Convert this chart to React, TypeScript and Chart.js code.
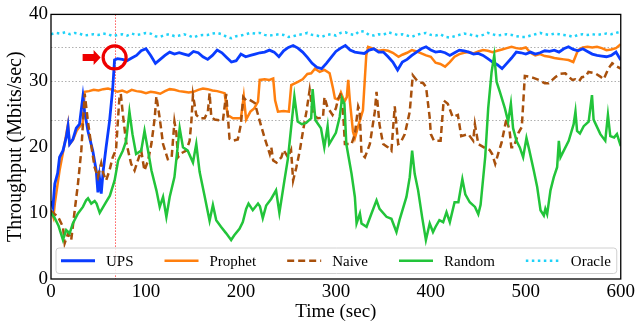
import { useEffect, useRef } from "react";
import { Chart, registerables } from "chart.js";

Chart.register(...registerables);

const FONT = '"Liberation Serif", "Times New Roman", Times, serif';

const xTickValues = [0, 100, 200, 300, 400, 500, 600];
const yTickValues = [0, 10, 20, 30, 40];
const referenceLevels = [24, 30, 35];
const switchTime = 67;
const switchValue = 33.5;

// [time (sec), throughput (Mbits/sec)]
const upsSeries: [number, number][] = [
  [0, 11.8], [2, 10.9], [4, 14.4], [7, 16.0], [9, 18.4], [12.6, 19.4], [16, 21.4], [17.9, 23.1], [19.6, 20.4], [23, 21.1],
  [26.6, 22.8], [30, 23.4], [33.6, 27.6], [35.4, 25.3], [39, 22.3], [44, 19.4], [47.6, 16.4], [49.4, 13.1], [51, 15.4], [52.9, 12.9],
  [55, 16.4], [58, 19.9], [61.6, 23.8], [65, 28.8], [66.9, 33.1], [70, 33.3],
  [75, 33.2], [80, 33.0], [85, 33.4], [90, 33.8], [95, 34.5], [100, 34.8], [105, 33.8], [110, 32.6], [115, 33.2], [120, 33.8],
  [125, 34.3], [130, 34.0], [135, 34.2], [140, 34.0], [145, 33.8], [150, 34.4], [155, 34.2], [160, 33.6], [165, 33.2], [170, 33.8],
  [175, 34.6], [180, 34.2], [185, 33.5], [190, 32.8], [195, 33.0], [200, 34.0], [205, 33.6], [210, 33.8], [215, 34.0], [220, 34.2],
  [225, 34.3], [230, 34.6], [235, 34.3], [240, 33.6], [245, 34.5], [250, 35.0], [255, 35.3], [260, 34.9], [265, 34.3], [270, 33.5],
  [275, 32.6], [280, 32.0], [285, 31.8], [290, 32.6], [295, 33.5], [300, 34.4], [305, 34.9], [310, 35.3], [315, 34.6], [320, 34.3],
  [325, 34.2], [330, 34.1], [335, 34.6], [340, 34.8], [345, 34.3], [350, 34.3], [355, 33.6], [360, 32.8], [365, 31.6], [370, 32.8],
  [375, 33.2], [380, 33.8], [385, 34.3], [390, 34.8], [395, 35.1], [400, 34.6], [405, 34.3], [410, 34.4], [415, 34.2], [420, 33.8],
  [425, 34.2], [430, 34.6], [435, 34.5], [440, 34.3], [445, 34.0], [450, 34.1], [455, 33.8], [460, 33.3], [465, 32.8], [470, 32.4],
  [475, 31.8], [480, 32.6], [485, 33.4], [490, 34.3], [495, 34.2], [500, 34.0], [505, 34.3], [510, 34.0], [515, 34.2], [520, 34.5],
  [525, 34.4], [530, 34.6], [535, 34.3], [540, 34.8], [545, 35.1], [550, 34.7], [555, 34.5], [560, 34.8], [565, 34.4], [570, 34.0],
  [575, 33.8], [580, 33.7], [585, 33.6], [590, 33.8], [595, 34.3], [600, 33.1],
];

const prophetSeries: [number, number][] = [
  [0, 10.3], [2.5, 9.3], [4, 11.4], [9, 16.4], [14.3, 20.4], [17.9, 23.4], [19.6, 20.4], [23, 21.0], [27, 22.4], [30, 23.0],
  [33.5, 23.6], [35.4, 28.3], [40, 28.4], [45, 28.6], [50, 28.5], [55, 28.7], [60, 28.8], [65, 28.6], [70, 28.3], [75, 28.5],
  [80, 28.2], [85, 28.6], [90, 28.4], [95, 28.3], [100, 28.1], [105, 28.3], [110, 28.2], [115, 28.0], [120, 28.4], [125, 28.7],
  [130, 28.6], [135, 28.4], [140, 28.3], [145, 28.2], [150, 28.3], [155, 28.6], [160, 28.8], [165, 28.7], [170, 28.5], [175, 28.4],
  [182.8, 28.1], [186, 24.8], [191.5, 24.3], [200, 24.3], [203, 27.6], [205.5, 24.1], [210, 25.3], [214, 25.8], [218, 26.8], [219.8, 30.1],
  [225, 30.2], [230, 30.1], [234, 30.3], [236, 27.0], [239, 25.3], [245, 25.4], [250.5, 25.3], [253, 29.3], [260, 29.8], [265, 30.2],
  [270, 31.0], [274, 31.1], [278, 31.8], [283, 31.3], [288, 31.6], [293.4, 31.1], [297, 28.8], [299, 27.3], [302.5, 27.1], [305.3, 28.2],
  [309, 26.8], [311.5, 27.5], [313, 30.1], [314.8, 26.8], [318, 22.3], [320, 21.3], [323.5, 23.1], [328.5, 25.5], [332, 33.8], [334, 35.1],
  [340, 34.8], [345, 34.5], [350, 34.6], [355, 34.5], [360, 34.2], [366, 33.6], [370, 33.9], [375, 34.2], [380, 34.6], [385, 34.4],
  [390, 34.1], [395, 33.8], [400, 33.6], [405, 32.7], [410, 32.5], [415, 32.1], [420, 32.8], [425, 33.6], [430, 34.0], [435, 34.2],
  [440, 34.3], [445, 34.1], [450, 34.4], [455, 34.6], [460, 34.5], [465, 34.3], [470, 34.5], [475, 34.7], [480, 34.9], [485, 35.1],
  [490, 34.9], [495, 34.8], [500, 35.0], [505, 34.2], [510, 33.8], [515, 34.0], [520, 33.7], [525, 33.6], [530, 33.4], [535, 33.3],
  [540, 33.2], [545, 33.1], [550, 32.8], [555, 34.6], [560, 35.0], [565, 35.1], [570, 35.0], [575, 35.1], [580, 34.9], [585, 34.6],
  [590, 34.7], [595, 34.9], [600, 35.5],
];

const naiveSeries: [number, number][] = [
  [0, 10.3], [4, 9.8], [7.4, 9.4], [12.6, 7.9], [14.4, 5.4], [18, 6.9], [21.3, 5.9], [25, 10.4], [28.4, 14.4], [31.9, 19.4],
  [35.5, 28.0], [38.9, 23.8], [42.4, 20.2], [45.9, 16.9], [49.4, 15.4], [52.9, 17.5], [55, 16.0], [58, 14.9], [61.6, 16.4], [65, 18.4],
  [68.5, 19.6], [72, 27.3], [73.5, 28.0], [75.6, 25.0], [79, 20.8], [84.4, 17.4], [88, 16.4], [91.4, 17.9], [95, 19.4], [98.4, 16.4],
  [102.2, 17.9], [105.7, 20.4], [109.2, 24.3], [111, 27.6], [114.5, 24.3], [118, 20.4], [123, 18.1], [127, 18.3], [130, 23.8], [132, 22.1],
  [133.7, 18.4], [137, 19.0], [142.5, 19.4], [146, 20.9], [147.8, 23.8], [149.5, 27.8], [153, 24.8], [156.5, 24.3], [161.8, 24.3], [165.2, 25.3],
  [167, 28.1], [168.8, 24.5], [172.3, 24.1], [181, 23.9], [184.5, 28.0], [188, 21.2], [191.5, 20.9], [196.7, 21.1], [200, 23.4], [202.5, 27.5],
  [205.5, 27.0], [209, 27.1], [214.6, 26.6], [220, 23.8], [225, 21.3], [230.4, 18.9], [232, 19.9], [234, 17.9], [237.5, 17.6], [242.6, 18.4],
  [245, 19.5], [249.6, 18.4], [252.8, 19.5], [255, 14.9], [258.4, 16.9], [262, 19.4], [265.4, 22.4], [269, 25.3], [272.4, 28.6], [276, 24.8],
  [281, 24.3], [286.4, 24.4], [288, 27.5], [291, 26.0], [296.5, 24.8], [300, 25.8], [302.5, 27.3], [305.5, 28.1], [308, 24.3], [309.5, 20.4],
  [316.5, 20.4], [320, 21.9], [323.5, 26.1], [325, 25.5], [327, 18.9], [330.6, 18.4], [335.8, 20.4], [341, 25.3], [342.8, 28.3], [346, 23.3],
  [349.8, 20.4], [355, 19.9], [358.5, 19.4], [362, 26.1], [365.6, 20.4], [368, 20.6], [372.6, 21.9], [377.8, 25.3], [381, 30.8], [386.6, 29.8],
  [392, 29.6], [395, 29.0], [398.8, 24.4], [400, 21.9], [403.3, 20.9], [410.3, 20.9], [413.5, 27.0], [417.8, 26.5], [423, 24.5], [428.5, 24.8],
  [432, 21.6], [439.5, 21.9], [444.6, 20.9], [446.4, 23.4], [450, 20.4], [457, 19.8], [462, 19.5], [464.6, 18.9], [467.8, 17.4], [471, 19.0],
  [474.5, 20.6], [479.7, 24.3], [483, 22.3], [484.8, 19.9], [487.3, 19.9], [492.3, 22.1], [495.8, 23.0], [499, 30.7], [503, 30.6], [508, 30.4],
  [513.7, 30.1], [520, 29.6], [524, 29.6], [531, 30.5], [536, 31.0], [541.7, 31.1], [545, 30.6], [549, 30.1], [552, 30.2], [556, 29.9],
  [559, 30.5], [563, 30.6], [566, 31.3], [573, 31.1], [578.5, 30.6], [582, 30.2], [587, 31.8], [591, 32.6], [595, 32.2], [600, 31.8],
];

const randomSeries: [number, number][] = [
  [0, 10.0], [4, 9.2], [8, 8.0], [12.6, 5.9], [16, 7.4], [19.6, 6.9], [23, 8.4], [28.4, 9.9], [33.6, 10.9], [37, 11.9],
  [39, 12.2], [42.4, 11.4], [46, 11.8], [48, 11.4], [51.3, 10.0], [57, 11.4], [62, 12.6], [67, 14.9], [70.7, 17.9], [75.6, 19.4],
  [79, 20.8], [82.6, 25.3], [85.8, 21.9], [89.6, 18.9], [95, 19.4], [98.5, 22.4], [102.2, 19.4], [105.8, 16.4], [111, 13.4], [114.5, 10.9],
  [118, 12.4], [121.5, 9.4], [125, 12.4], [130, 15.4], [133.7, 20.4], [135.5, 22.8], [139, 19.9], [144, 19.4], [149.5, 17.6], [153, 20.4],
  [156.5, 16.2], [161.8, 12.5], [167, 8.8], [170.5, 11.2], [174, 8.9], [179, 7.9], [184.5, 6.9], [189.7, 5.9], [193, 6.6], [198.5, 7.6],
  [202, 8.6], [205.5, 10.6], [208, 11.4], [212.5, 10.4], [218, 11.4], [220, 11.0], [223, 9.2], [226.6, 11.1], [231.8, 12.1], [237, 13.4],
  [240.5, 10.0], [245.8, 14.9], [249.5, 18.2], [256.3, 27.6], [259.8, 23.8], [264, 23.4], [268.7, 23.6], [274, 24.3], [275.5, 28.7], [278.5, 24.0],
  [284.3, 22.8], [287.8, 19.9], [291.3, 23.1], [293, 20.4], [300, 22.1], [304, 24.5], [306.5, 27.3], [309, 26.5], [311, 20.4], [316.5, 15.9],
  [320, 12.4], [321.8, 8.4], [325.3, 9.9], [327, 8.4], [332.3, 7.9], [337.5, 9.9], [342.8, 11.9], [346, 10.6], [353.3, 9.4], [358.5, 9.1],
  [363.8, 7.1], [367, 8.9], [374.3, 12.4], [377.8, 15.4], [380.3, 19.4], [383, 15.9], [386.6, 13.4], [391, 9.2], [394.8, 5.9], [398.8, 8.4],
  [402.3, 7.1], [405, 7.9], [409, 8.9], [413, 8.6], [416.5, 10.1], [420, 8.6], [425, 11.6], [429, 11.6], [433.2, 15.1], [436.3, 12.8],
  [441, 11.6], [446.5, 10.9], [450, 9.8], [452.4, 11.2], [457.3, 18.5], [460.4, 25.8], [464, 31.3], [466.8, 33.8], [469.3, 29.8], [472.7, 28.3],
  [478, 25.8], [481.4, 23.8], [484.3, 26.5], [486.6, 22.8], [490.2, 20.9], [493.7, 19.9], [497.2, 18.4], [500.7, 21.3], [503.5, 19.6], [508.4, 16.4],
  [512, 13.9], [515.5, 10.4], [519, 9.6], [520.6, 10.6], [522.5, 9.8], [526, 13.4], [529.5, 15.4], [533, 16.9], [534.8, 20.9], [536.5, 18.4],
  [540, 19.4], [545.2, 20.9], [550.4, 23.4], [552.3, 25.3], [554, 22.4], [557, 22.0], [561, 23.1], [566.2, 23.8], [569.7, 27.8], [571.4, 24.1],
  [578.5, 21.9], [583.7, 20.9], [586.5, 24.8], [589, 21.6], [593, 21.4], [596, 21.9], [600, 20.1],
];

const oracleTimes = [
  0, 5, 10, 15, 20, 25, 30, 35, 40, 45, 50, 55, 60, 65, 70, 75, 80, 85, 90, 95,
  100, 105, 110, 115, 120, 125, 130, 135, 140, 145, 150, 155, 160, 165, 170, 175, 180, 185, 190, 195,
  200, 205, 210, 215, 220, 225, 230, 235, 240, 245, 250, 255, 260, 265, 270, 275, 280, 285, 290, 295,
  300, 305, 310, 315, 320, 325, 330, 335, 340, 345, 350, 355, 360, 365, 370, 375, 380, 385, 390, 395,
  400, 405, 410, 415, 420, 425, 430, 435, 440, 445, 450, 455, 460, 465, 470, 475, 480, 485, 490, 495,
  500, 505, 510, 515, 520, 525, 530, 535, 540, 545, 550, 555, 560, 565, 570, 575, 580, 585, 590, 595,
  600,
];
const oracleValues = [
  37.0, 37.2, 37.1, 37.3, 37.0, 37.2, 37.1, 36.8, 36.9, 37.0,
  36.9, 37.1, 37.0, 36.7, 36.9, 37.0, 36.8, 37.1, 36.9, 37.0,
  37.2, 37.1, 36.7, 36.6, 36.9, 37.0, 36.7, 36.8, 37.0, 36.8,
  36.5, 36.8, 36.9, 36.9, 37.1, 37.2, 37.0, 36.6, 36.4, 36.7,
  36.8, 37.0, 37.2, 37.1, 37.2, 36.9, 36.8, 36.9, 37.0, 36.9,
  36.6, 36.7, 36.9, 37.0, 37.2, 36.9, 36.8, 36.6, 36.9, 37.0,
  36.8, 37.2, 37.3, 37.0, 36.9, 37.5, 37.4, 36.9, 36.8, 37.0,
  36.9, 37.3, 37.1, 36.9, 37.0, 36.8, 36.6, 36.9, 37.1, 37.2,
  36.9, 36.8, 37.0, 36.6, 36.5, 36.7, 36.9, 37.1, 37.0, 36.8,
  36.7, 36.9, 37.2, 37.0, 36.8, 36.9, 37.0, 36.9, 36.7, 36.6,
  36.6, 36.8, 37.0, 37.2, 37.0, 36.9, 37.1, 37.0, 36.9, 36.8,
  36.6, 36.9, 37.0, 36.9, 37.0, 36.9, 37.0, 37.1, 37.0, 37.2,
  37.4,
];

const pairsToPoints = (s: [number, number][]) => s.map(([x, y]) => ({ x, y }));

export default function App() {
  const canvasRef = useRef<HTMLCanvasElement | null>(null);

  useEffect(() => {
    document.body.style.margin = "0";
    const canvas = canvasRef.current;
    if (!canvas) return;

    const overlay = {
      id: "overlay",
      beforeDatasetsDraw(chart: any) {
        const { ctx, chartArea: a, scales } = chart;
        const xs = scales.x;
        const ys = scales.y;
        ctx.save();
        ctx.lineWidth = 1;
        ctx.strokeStyle = "#b0b0b0";
        ctx.setLineDash([1.5, 2]);
        for (const lv of referenceLevels) {
          const py = Math.round(ys.getPixelForValue(lv)) + 0.5;
          ctx.beginPath();
          ctx.moveTo(a.left, py);
          ctx.lineTo(a.right, py);
          ctx.stroke();
        }
        ctx.strokeStyle = "#ff5a5a";
        ctx.setLineDash([1.5, 1.5]);
        const px = Math.round(xs.getPixelForValue(switchTime)) + 0.5;
        ctx.beginPath();
        ctx.moveTo(px, a.top);
        ctx.lineTo(px, a.bottom);
        ctx.stroke();
        ctx.restore();
      },
      afterDatasetsDraw(chart: any) {
        const { ctx, chartArea: a, scales } = chart;
        const xs = scales.x;
        const ys = scales.y;
        ctx.save();
        // highlight circle and arrow
        const cx = xs.getPixelForValue(switchTime);
        const cy = ys.getPixelForValue(switchValue);
        ctx.setLineDash([]);
        ctx.strokeStyle = "#ee0000";
        ctx.lineWidth = 3.2;
        ctx.beginPath();
        ctx.arc(cx, cy, 11.5, 0, Math.PI * 2);
        ctx.stroke();
        ctx.fillStyle = "#ee0000";
        ctx.beginPath();
        ctx.moveTo(cx - 32, cy - 3.5);
        ctx.lineTo(cx - 21, cy - 3.5);
        ctx.lineTo(cx - 21, cy - 7.5);
        ctx.lineTo(cx - 14, cy);
        ctx.lineTo(cx - 21, cy + 7.5);
        ctx.lineTo(cx - 21, cy + 3.5);
        ctx.lineTo(cx - 32, cy + 3.5);
        ctx.closePath();
        ctx.fill();

        // frame
        ctx.strokeStyle = "#000";
        ctx.lineWidth = 1.3;
        ctx.strokeRect(a.left, a.top, a.right - a.left, a.bottom - a.top);

        // legend
        const bl = a.left + 5;
        const br = a.right - 4;
        const bt = a.bottom - 31;
        const bb = a.bottom - 5.5;
        const r = 3;
        ctx.beginPath();
        ctx.moveTo(bl + r, bt);
        ctx.lineTo(br - r, bt);
        ctx.quadraticCurveTo(br, bt, br, bt + r);
        ctx.lineTo(br, bb - r);
        ctx.quadraticCurveTo(br, bb, br - r, bb);
        ctx.lineTo(bl + r, bb);
        ctx.quadraticCurveTo(bl, bb, bl, bb - r);
        ctx.lineTo(bl, bt + r);
        ctx.quadraticCurveTo(bl, bt, bl + r, bt);
        ctx.closePath();
        ctx.fillStyle = "rgba(255,255,255,0.85)";
        ctx.fill();
        ctx.strokeStyle = "#d0d0d0";
        ctx.lineWidth = 1;
        ctx.stroke();

        ctx.font = `15px ${FONT}`;
        ctx.textBaseline = "middle";
        ctx.textAlign = "left";
        const ly = (bt + bb) / 2;
        let lx = bl + 5;
        for (const ds of chart.data.datasets) {
          ctx.strokeStyle = ds.borderColor;
          ctx.lineWidth = ds.borderWidth;
          ctx.setLineDash(ds.borderDash || []);
          ctx.beginPath();
          ctx.moveTo(lx, ly);
          ctx.lineTo(lx + 34, ly);
          ctx.stroke();
          ctx.setLineDash([]);
          ctx.fillStyle = "#000";
          ctx.fillText(ds.label, lx + 45, ly + 1);
          lx += 45 + ctx.measureText(ds.label).width + 31;
        }
        ctx.restore();
      },
    };

    const common = { pointRadius: 0, pointHoverRadius: 0, tension: 0, fill: false };

    const chart = new Chart(canvas, {
      type: "line",
      data: {
        datasets: [
          { ...common, label: "UPS", data: pairsToPoints(upsSeries), borderColor: "#0a3cff", borderWidth: 2.8, order: 3 },
          { ...common, label: "Prophet", data: pairsToPoints(prophetSeries), borderColor: "#ff7f0e", borderWidth: 2.5, order: 4 },
          { ...common, label: "Naive", data: pairsToPoints(naiveSeries), borderColor: "#a8500c", borderWidth: 2.5, borderDash: [7, 4], order: 2 },
          { ...common, label: "Random", data: pairsToPoints(randomSeries), borderColor: "#22c43a", borderWidth: 2.5, order: 1 },
          {
            ...common,
            label: "Oracle",
            data: oracleTimes.map((t, i) => ({ x: t, y: oracleValues[i] })),
            borderColor: "#1ed2f8",
            borderWidth: 2.5,
            borderDash: [2.5, 3.5],
            order: 0,
          },
        ] as any,
      },
      options: {
        responsive: false,
        animation: false,
        devicePixelRatio: 1,
        layout: { padding: { top: 12, right: 15, left: 0, bottom: 0 } },
        plugins: { legend: { display: false }, tooltip: { enabled: false } },
        scales: {
          x: {
            type: "linear",
            min: 0,
            max: 600,
            afterBuildTicks: (s: any) => {
              s.ticks = xTickValues.map((v) => ({ value: v }));
            },
            afterFit: (s: any) => {
              s.height = 48;
            },
            ticks: { font: { family: FONT, size: 19 }, color: "#000", padding: 2, maxRotation: 0, autoSkip: false },
            grid: { display: false, drawTicks: false },
            border: { display: false },
            title: { display: true, text: "Time (sec)", font: { family: FONT, size: 19 }, color: "#000", padding: { top: 0, bottom: 4 } },
          },
          y: {
            type: "linear",
            min: 0,
            max: 40,
            afterBuildTicks: (s: any) => {
              s.ticks = yTickValues.map((v) => ({ value: v }));
            },
            afterFit: (s: any) => {
              s.width = 51;
            },
            ticks: { font: { family: FONT, size: 19 }, color: "#000", padding: 3 },
            grid: { display: false, drawTicks: false },
            border: { display: false },
            title: {
              display: true,
              text: "Throughput (Mbits/sec)",
              font: { family: FONT, size: 20 },
              color: "#000",
              padding: { top: 4, bottom: 0 },
            },
          },
        },
      } as any,
      plugins: [overlay],
    });

    return () => chart.destroy();
  }, []);

  return (
    <div style={{ width: 637, height: 327 }}>
      <canvas ref={canvasRef} width={637} height={327} style={{ display: "block" }} />
    </div>
  );
}
